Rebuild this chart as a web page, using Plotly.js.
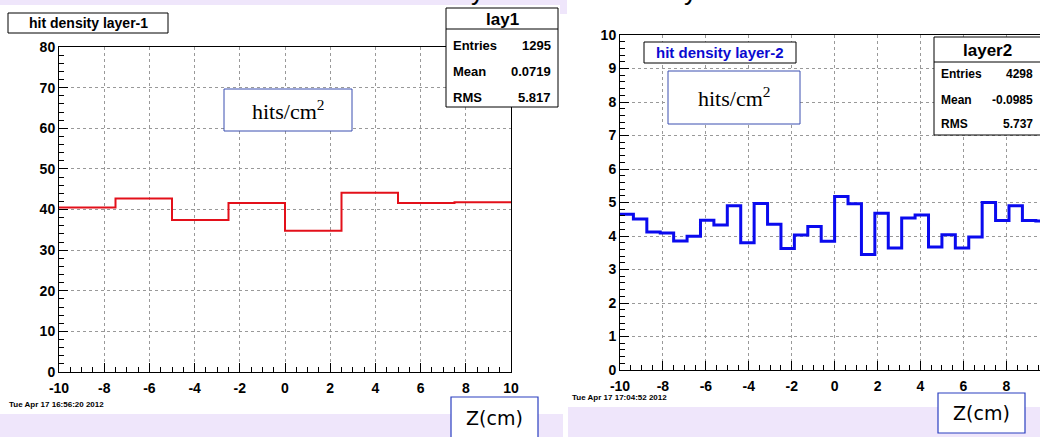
<!DOCTYPE html>
<html>
<head>
<meta charset="utf-8">
<script src="https://cdn.plot.ly/plotly-3.0.1.min.js"></script>
<style>html,body{margin:0;padding:0;background:#fff;}#chart{width:1040px;height:437px;}</style>
</head>
<body>
<div id="chart"></div>
<script>
// ---- data ----
const layer1Edges = [-10, -7.5, -5, -2.5, 0, 2.5, 5, 7.5, 10];
const layer1Values = [40.5, 42.7, 37.4, 41.6, 34.8, 44.1, 41.6, 41.8];
const layer2Range = [-10, 10];
const layer2Values = [4.65, 4.51, 4.12, 4.09, 3.85, 3.99, 4.47, 4.33, 4.90, 3.80, 4.97, 4.35,
  3.63, 4.03, 4.28, 3.84, 5.18, 4.96, 3.45, 4.68, 3.64, 4.54, 4.63, 3.67,
  4.04, 3.64, 3.97, 5.00, 4.46, 4.90, 4.46, 4.45];
const xTickVals = [-10, -8, -6, -4, -2, 0, 2, 4, 6, 8, 10];
const xTickText = ['-10', '-8', '-6', '-4', '-2', '0', '2', '4', '6', '8', '10'];
const layer1Stats = {title: 'lay1', Entries: '1295', Mean: '0.0719', RMS: '5.817'};
const layer2Stats = {title: 'layer2', Entries: '4298', Mean: '-0.0985', RMS: '5.737'};
const title1 = 'hit density layer-1';
const title2 = 'hit density layer-2';
const unitText = 'hits/cm<sup>2</sup>';
const xLabel = 'Z(cm)';
const date1 = 'Tue Apr 17 16:56:20 2012';
const date2 = 'Tue Apr 17 17:04:52 2012';

// ---- helpers ----
const W = 1040, H = 437;
const X = px => px / W;
const Y = py => 1 - py / H;

function stepXY(edges, vals) {
  return {x: edges.slice(), y: vals.concat([vals[vals.length - 1]])};
}
const n2 = layer2Values.length;
const layer2Edges = [];
for (let i = 0; i <= n2; i++) layer2Edges.push(layer2Range[0] + i * (layer2Range[1] - layer2Range[0]) / n2);

const s1 = stepXY(layer1Edges, layer1Values);
const s2 = stepXY(layer2Edges, layer2Values);

const traces = [
  {x: s1.x, y: s1.y, type: 'scatter', mode: 'lines', line: {shape: 'hv', color: '#e3101a', width: 2},
   xaxis: 'x', yaxis: 'y', hoverinfo: 'x+y'},
  {x: s2.x, y: s2.y, type: 'scatter', mode: 'lines', line: {shape: 'hv', color: '#0a0aee', width: 3},
   xaxis: 'x2', yaxis: 'y2', hoverinfo: 'x+y'}
];

const tickFont = {family: 'Liberation Sans, Arial, sans-serif', size: 14, color: '#000', weight: 'bold'};
function axisBase(extra) {
  return Object.assign({
    showline: true, mirror: true, linecolor: '#000', linewidth: 1,
    ticks: 'inside', ticklen: 9, tickcolor: '#000', tickwidth: 1,
    showgrid: true, gridcolor: '#999', griddash: 'dot', gridwidth: 1,
    zeroline: false, tickfont: tickFont, fixedrange: true
  }, extra);
}

const layout = {
  width: W, height: H,
  margin: {l: 0, r: 0, t: 0, b: 0},
  paper_bgcolor: '#fff', plot_bgcolor: '#fff',
  showlegend: false,
  xaxis: axisBase({domain: [X(59), X(511)], range: [-10, 10], anchor: 'y', tickmode: 'array',
    tickvals: xTickVals, ticktext: xTickText, ticklabelstandoff: 3,
    minor: {dtick: 0.5, tick0: -10, ticks: 'inside', ticklen: 5, tickcolor: '#000', showgrid: false}}),
  yaxis: axisBase({domain: [Y(372), Y(47)], range: [0, 80], anchor: 'x', dtick: 10, tick0: 0,
    minor: {dtick: 2, tick0: 0, ticks: 'inside', ticklen: 5, tickcolor: '#000', showgrid: false}}),
  xaxis2: axisBase({domain: [X(620), 1], range: [-10, 9.57], anchor: 'y2', tickmode: 'array',
    tickvals: xTickVals, ticktext: xTickText, ticklabelstandoff: 3,
    minor: {dtick: 0.5, tick0: -10, ticks: 'inside', ticklen: 5, tickcolor: '#000', showgrid: false}}),
  yaxis2: axisBase({domain: [Y(370), Y(35)], range: [0, 10], anchor: 'x2', dtick: 1, tick0: 0,
    minor: {dtick: 0.2, tick0: 0, ticks: 'inside', ticklen: 5, tickcolor: '#000', showgrid: false}}),
  shapes: [],
  annotations: []
};

const lav = '#efe6fb';
function rect(x0, y0, x1, y1, fill, lineColor, lw, layer) {
  layout.shapes.push({type: 'rect', xref: 'paper', yref: 'paper', x0: X(x0), x1: X(x1), y0: Y(y1), y1: Y(y0),
    fillcolor: fill, line: {color: lineColor || 'rgba(0,0,0,0)', width: lw === undefined ? 0 : lw}, layer: layer || 'above'});
}
function hline(x0, x1, y, color) {
  layout.shapes.push({type: 'line', xref: 'paper', yref: 'paper', x0: X(x0), x1: X(x1), y0: Y(y), y1: Y(y),
    line: {color: color || '#000', width: 1}, layer: 'above'});
}
function text(t, x, y, opts) {
  opts = opts || {};
  layout.annotations.push({text: t, xref: 'paper', yref: 'paper', x: X(x), y: Y(y), showarrow: false,
    xanchor: opts.xanchor || 'center', yanchor: opts.yanchor || 'middle',
    font: Object.assign({family: 'Liberation Sans, Arial, sans-serif', size: 13, color: '#000', weight: 'bold'}, opts.font || {})});
}

// background bands
rect(0, 0, 567, 5, lav, null, 0, 'below');
rect(560, 0, 567, 14, lav, null, 0, 'below');
rect(0, 414, 563, 437, lav, null, 0, 'below');
rect(568, 407, 1040, 437, lav, null, 0, 'below');

// cut-off slide title descenders at the top edge
text('y', 477, 8, {yanchor: 'bottom', font: {size: 26, weight: 'normal'}});
text('y', 690, 8, {yanchor: 'bottom', font: {size: 26, weight: 'normal'}});

// title boxes
rect(8, 13, 168, 33, '#fff', '#000', 1);
text(title1, 88, 23, {font: {size: 14}});
rect(644, 42, 796, 63, '#fff', '#000', 1);
text(title2, 720, 52.5, {font: {size: 15, color: '#0a0ad0'}});

// stat boxes
function statBox(s, x0, x1, y0, yDiv, y1, rows, titleSize, rowSize) {
  rect(x0, y0, x1, y1, '#fff', '#000', 1);
  hline(x0, x1, yDiv);
  text(s.title, (x0 + Math.min(x1, 1040)) / 2, (y0 + yDiv) / 2 + 1, {font: {size: titleSize}});
  const keys = ['Entries', 'Mean', 'RMS'];
  keys.forEach((k, i) => {
    text(k, x0 + 5, rows[i], {xanchor: 'left', font: {size: rowSize}});
    text(s[k], Math.min(x1, 1040) - 5, rows[i], {xanchor: 'right', font: {size: rowSize}});
  });
}
statBox(layer1Stats, 446, 558, 8, 29, 107, [45, 71, 97], 17, 13);
statBox(layer2Stats, 934, 1050, 37, 62, 135, [74, 100, 124], 17, 12);

// unit boxes
rect(224, 89, 352, 131, '#fff', '#3a4fb0', 1);
text(unitText, 288, 110, {font: {family: 'Liberation Serif, Times New Roman, serif', size: 22, weight: 'normal'}});
rect(668, 71, 800, 124, '#fff', '#3a4fb0', 1);
text(unitText, 734, 97, {font: {family: 'Liberation Serif, Times New Roman, serif', size: 22, weight: 'normal'}});

// Z(cm) boxes
rect(451, 397, 538, 446, '#fff', '#2a3fc0', 1.2);
text(xLabel, 494, 418, {font: {family: 'Comic Sans MS, DejaVu Sans, sans-serif', size: 19, weight: 'normal'}});
rect(938, 393, 1025, 433, '#fff', '#2a3fc0', 1.2);
text(xLabel, 981, 413, {font: {family: 'Comic Sans MS, DejaVu Sans, sans-serif', size: 19, weight: 'normal'}});

// dates
text(date1, 7, 404, {xanchor: 'left', font: {size: 8}});
text(date2, 570, 397, {xanchor: 'left', font: {size: 8}});

Plotly.newPlot('chart', traces, layout, {displayModeBar: false, staticPlot: true});
</script>
</body>
</html>
